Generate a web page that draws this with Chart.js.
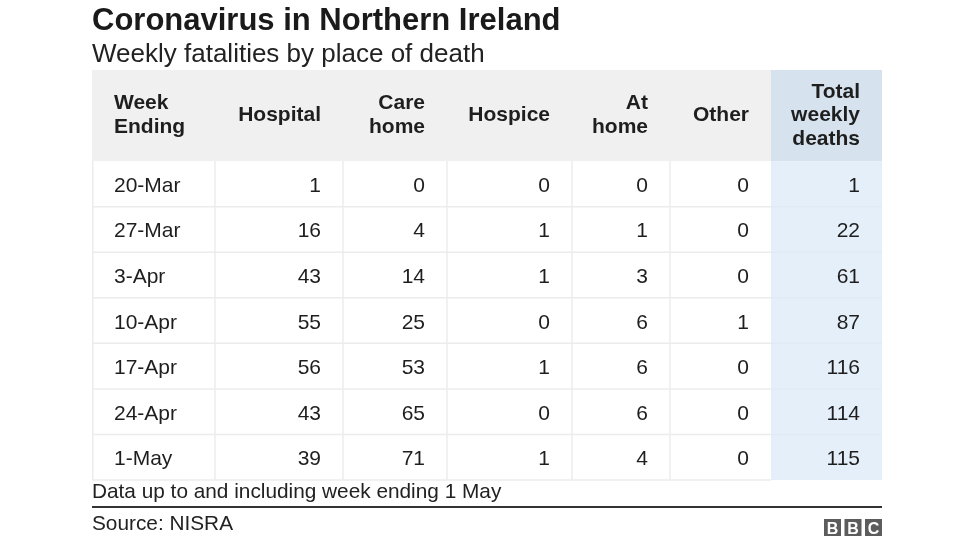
<!DOCTYPE html>
<html><head><meta charset="utf-8">
<script src="https://cdn.jsdelivr.net/npm/chart.js@4"></script>
<style>html,body{margin:0;padding:0;background:#fff;overflow:hidden}</style>
</head><body>
<canvas id="c" width="976" height="549"></canvas>
<script>
// ---- data ----
const weeks    = ['20-Mar','27-Mar','3-Apr','10-Apr','17-Apr','24-Apr','1-May'];
const hospital = [1, 16, 43, 55, 56, 43, 39];
const careHome = [0, 4, 14, 25, 53, 65, 71];
const hospice  = [0, 1, 1, 0, 1, 0, 1];
const atHome   = [0, 1, 3, 6, 6, 6, 4];
const other    = [0, 0, 0, 1, 0, 0, 0];
const total    = [1, 22, 61, 87, 116, 114, 115];
const headers  = [['Week','Ending'],['Hospital'],['Care','home'],['Hospice'],['At','home'],['Other'],['Total','weekly','deaths']];
const titleText    = 'Coronavirus in Northern Ireland';
const subtitleText = 'Weekly fatalities by place of death';
const noteText     = 'Data up to and including week ending 1 May';
const sourceText   = 'Source: NISRA';

// ---- style / layout ----
const FONT = '"Liberation Sans", Arial, Helvetica, sans-serif';
const colUnits = [123, 128, 104, 125, 98, 101, 111]; // relative column widths
const headerUnits = 2;                                  // header row = 2 body rows tall
const colEdges = colUnits.reduce((a, w) => { a.push(a[a.length-1] + w); return a; }, [0]);
const columns = [weeks, hospital, careHome, hospice, atHome, other, total];

const tablePlugin = {
  id: 'tablePlugin',
  beforeDraw(chart) {
    const ctx = chart.ctx;
    const xs = chart.scales.x, ys = chart.scales.y;
    const X = v => xs.getPixelForValue(v);
    const Y = v => ys.getPixelForValue(v);
    const nRows = weeks.length;
    const yEnd = headerUnits + nRows;
    const L = X(0), R = X(colEdges[colEdges.length-1]);
    ctx.save();
    ctx.fillStyle = '#ffffff';
    ctx.fillRect(0, 0, chart.width, chart.height);

    // backgrounds
    ctx.fillStyle = '#f0f0f0';
    ctx.fillRect(L, Y(0), R - L, Y(headerUnits) - Y(0));
    const tc = colEdges.length - 2;
    ctx.fillStyle = '#d6e3ee';
    ctx.fillRect(X(colEdges[tc]), Y(0), X(colEdges[tc+1]) - X(colEdges[tc]), Y(headerUnits) - Y(0));
    ctx.fillStyle = '#e4effa';
    ctx.fillRect(X(colEdges[tc]), Y(headerUnits), X(colEdges[tc+1]) - X(colEdges[tc]), Y(yEnd) - Y(headerUnits));

    // grid lines
    ctx.strokeStyle = '#ececec';
    ctx.lineWidth = 1.5;
    for (let r = 1; r <= nRows; r++) {
      const y = Y(headerUnits + r);
      ctx.beginPath(); ctx.moveTo(L, y); ctx.lineTo(X(colEdges[tc]), y); ctx.stroke();
    }
    ctx.strokeStyle = '#e0ebf6';
    for (let r = 1; r < nRows; r++) {
      const y = Y(headerUnits + r);
      ctx.beginPath(); ctx.moveTo(X(colEdges[tc]), y); ctx.lineTo(R, y); ctx.stroke();
    }
    ctx.strokeStyle = '#ececec';
    for (let c = 0; c < tc; c++) {
      const x = c === 0 ? L + 0.75 : X(colEdges[c]);
      ctx.beginPath(); ctx.moveTo(x, Y(headerUnits)); ctx.lineTo(x, Y(yEnd)); ctx.stroke();
    }

    // header text
    ctx.fillStyle = '#1e1e1e';
    ctx.font = 'bold 21px ' + FONT;
    ctx.textBaseline = 'alphabetic';
    const lh = 23.5;
    const hMid = (Y(0) + Y(headerUnits)) / 2 - 2;
    headers.forEach((lines, c) => {
      const left = c === 0;
      ctx.textAlign = left ? 'left' : 'right';
      const x = left ? X(colEdges[c]) + 22 : X(colEdges[c+1]) - 22;
      lines.forEach((t, i) => {
        const yc = hMid + (i - (lines.length - 1) / 2) * lh;
        ctx.fillText(t, x, yc + 7.5);
      });
    });

    // body text
    ctx.font = '21px ' + FONT;
    columns.forEach((vals, c) => {
      const left = c === 0;
      ctx.textAlign = left ? 'left' : 'right';
      const x = left ? X(colEdges[c]) + 22 : X(colEdges[c+1]) - 22;
      vals.forEach((v, r) => {
        const yc = (Y(headerUnits + r) + Y(headerUnits + r + 1)) / 2;
        ctx.fillText(String(v), x, yc + 8);
      });
    });

    // title / subtitle
    const top = Y(0);
    ctx.textAlign = 'left';
    ctx.fillStyle = '#1a1a1a';
    ctx.font = 'bold 31px ' + FONT;
    ctx.fillText(titleText, L, top - 40);
    ctx.fillStyle = '#222222';
    ctx.font = '26px ' + FONT;
    ctx.fillText(subtitleText, L, top - 8);

    // footer
    const bot = Y(yEnd);
    ctx.font = '20.8px ' + FONT;
    ctx.fillText(noteText, L, bot + 18);
    ctx.strokeStyle = '#333333';
    ctx.lineWidth = 2;
    ctx.beginPath(); ctx.moveTo(L, bot + 27); ctx.lineTo(R, bot + 27); ctx.stroke();
    ctx.fillText(sourceText, L, bot + 50);

    // BBC blocks
    const bw = 17, gap = 3.5, bh = 17;
    const by = bot + 39;
    ['B','B','C'].forEach((ch, i) => {
      const bx = R - 3 * bw - 2 * gap + i * (bw + gap);
      ctx.fillStyle = '#5c5c5c';
      ctx.fillRect(bx, by, bw, bh);
      ctx.fillStyle = '#ffffff';
      ctx.font = 'bold 16px ' + FONT;
      ctx.textAlign = 'center';
      ctx.fillText(ch, bx + bw / 2, by + bh / 2 + 6);
    });
    ctx.restore();
  }
};

new Chart(document.getElementById('c'), {
  type: 'scatter',
  data: { datasets: [{ data: [], pointRadius: 0 }] },
  options: {
    responsive: false,
    animation: false,
    events: [],
    layout: { padding: { left: 92, right: 94, top: 70, bottom: 69 } },
    scales: {
      x: { type: 'linear', min: 0, max: colEdges[colEdges.length-1], display: false },
      y: { type: 'linear', min: 0, max: headerUnits + weeks.length, reverse: true, display: false }
    },
    plugins: { legend: { display: false }, tooltip: { enabled: false }, title: { display: false } }
  },
  plugins: [tablePlugin]
});
</script>
</body></html>
